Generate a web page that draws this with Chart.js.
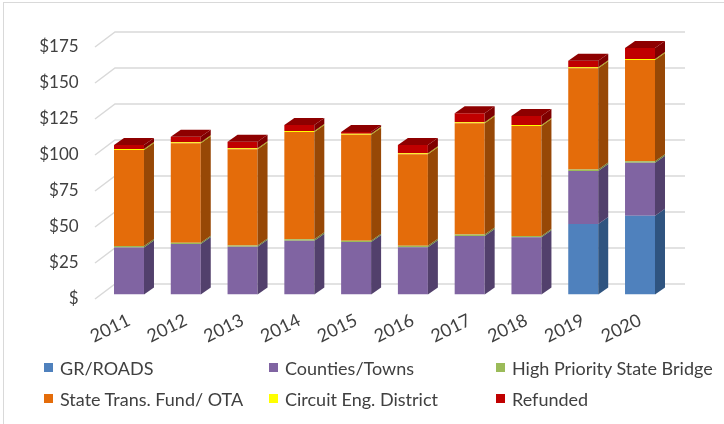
<!DOCTYPE html>
<html>
<head>
<meta charset="utf-8">
<script src="https://cdn.jsdelivr.net/npm/chart.js@4.4.1/dist/chart.umd.min.js"></script>
<style>
  html, body { margin: 0; padding: 0; background: #ffffff; }
  #wrap { position: relative; width: 724px; height: 424px; overflow: hidden; }
  #frame { position: absolute; left: 3px; top: 2px; width: 740px; height: 440px; border: 1px solid #d9d9d9; box-sizing: border-box; }
  canvas { position: absolute; left: 0; top: 0; }
  .lg { position: absolute; font-family: Lato, "Open Sans", sans-serif; font-size: 18px; color: #404040; white-space: nowrap; line-height: 20px; }
  .lg i { position: absolute; left: 0; top: 5px; width: 9px; height: 9px; }
  .lg span { position: absolute; left: 16px; top: 0; }
</style>
</head>
<body>
<div id="wrap">
  <div id="frame"></div>
  <canvas id="c" width="724" height="424"></canvas>
  <div id="legend"></div>
</div>
<script>
// ---- data ----
const years = ['2011','2012','2013','2014','2015','2016','2017','2018','2019','2020'];
const grRoads    = [0, 0, 0, 0, 0, 0, 0, 0, 49.0, 54.7];
const counties   = [32.7, 35.0, 33.1, 37.3, 36.4, 32.8, 40.6, 39.7, 36.8, 36.8];
const hpBridge   = [1.0, 1.0, 1.0, 1.0, 1.0, 1.0, 1.0, 1.0, 1.0, 1.0];
const stateTrans = [66.6, 69.0, 66.7, 74.5, 73.6, 63.6, 77.3, 76.3, 70.3, 70.3];
const circuitEng = [0.7, 0.7, 0.7, 0.7, 0.7, 0.7, 0.7, 0.7, 0.7, 0.7];
const refunded   = [2.8, 3.9, 4.6, 4.2, 1.1, 5.7, 6.2, 6.3, 4.6, 7.7];
const seriesNames = ['GR/ROADS', 'Counties/Towns', 'High Priority State Bridge', 'State Trans. Fund/ OTA', 'Circuit Eng. District', 'Refunded'];
const yTickValues = [0, 25, 50, 75, 100, 125, 150, 175];

// ---- styles ----
const frontColors = ['#4f81bd', '#8064a2', '#9bbb59', '#e46c0a', '#ffff00', '#c00000'];
const sideColors  = ['#2f5480', '#52406c', '#67803a', '#974806', '#a8a800', '#7f0000'];
const topColor = '#8e0000';
const DEPTH_X = 10, DEPTH_Y = -7;

const seriesData = [grRoads, counties, hpBridge, stateTrans, circuitEng, refunded];

const threeD = {
  id: 'threeD',
  beforeDatasetsDraw(chart) {
    const ctx = chart.ctx, ys = chart.scales.y, ca = chart.chartArea;
    ctx.save();
    ctx.strokeStyle = '#d9d9d9';
    ctx.lineWidth = 1.5;
    ys.ticks.forEach(t => {
      const yb = ys.getPixelForValue(t.value) - 10.5;
      ctx.beginPath();
      ctx.moveTo(ca.left - 5.6, yb + 15);
      ctx.lineTo(ca.left + 14.4, yb);
      ctx.lineTo(ca.right + 16.6, yb);
      ctx.stroke();
    });
    ctx.restore();
  },
  afterDatasetsDraw(chart) {
    const ctx = chart.ctx;
    ctx.save();
    const n = chart.data.datasets.length;
    for (let d = 0; d < n; d++) {
      const meta = chart.getDatasetMeta(d);
      meta.data.forEach(el => {
        const p = el.getProps(['x', 'y', 'base', 'width'], true);
        const h = p.base - p.y;
        if (h < 0.05) return;
        const r = p.x + p.width / 2;
        ctx.fillStyle = sideColors[d];
        ctx.beginPath();
        ctx.moveTo(r, p.y);
        ctx.lineTo(r + DEPTH_X, p.y + DEPTH_Y);
        ctx.lineTo(r + DEPTH_X, p.base + DEPTH_Y);
        ctx.lineTo(r, p.base);
        ctx.closePath();
        ctx.fill();
      });
    }
    const topMeta = chart.getDatasetMeta(n - 1);
    topMeta.data.forEach(el => {
      const p = el.getProps(['x', 'y', 'width'], true);
      const l = p.x - p.width / 2, r = p.x + p.width / 2;
      ctx.fillStyle = topColor;
      ctx.beginPath();
      ctx.moveTo(l, p.y);
      ctx.lineTo(l + DEPTH_X, p.y + DEPTH_Y);
      ctx.lineTo(r + DEPTH_X, p.y + DEPTH_Y);
      ctx.lineTo(r, p.y);
      ctx.closePath();
      ctx.fill();
    });
    ctx.restore();
  }
};

const chart = new Chart(document.getElementById('c'), {
  type: 'bar',
  data: {
    labels: years,
    datasets: seriesData.map((arr, i) => ({
      label: seriesNames[i],
      data: arr,
      backgroundColor: frontColors[i],
      borderWidth: 0,
      categoryPercentage: 0.528,
      barPercentage: 1.0
    }))
  },
  options: {
    responsive: false,
    animation: false,
    devicePixelRatio: 1,
    layout: { padding: { left: 30, right: 55.6, top: 42.5, bottom: 69.5 } },
    plugins: { legend: { display: false }, tooltip: { enabled: false } },
    scales: {
      x: {
        stacked: true,
        grid: { display: false, drawTicks: false },
        border: { display: false },
        afterFit: s => { s.height = 60; },
        ticks: {
          autoSkip: false,
          minRotation: 26, maxRotation: 26,
          padding: 15,
          color: '#404040',
          font: { family: 'Lato', size: 18 }
        }
      },
      y: {
        stacked: true,
        min: 0, max: 175,
        grid: { display: false, drawTicks: false },
        border: { display: false },
        afterFit: s => { s.width = 70.6; },
        afterBuildTicks: s => { s.ticks = yTickValues.map(v => ({ value: v })); },
        ticks: {
          padding: 22,
          labelOffset: 4.5,
          color: '#404040',
          font: { family: 'Lato', size: 17 },
          callback: v => v === 0 ? '$' : '$' + v
        }
      }
    }
  },
  plugins: [threeD]
});

// ---- legend (3 columns x 2 rows) ----
const legendCols = [44, 269, 496];
const legendRows = [358, 389];
const legend = document.getElementById('legend');
seriesNames.forEach((name, i) => {
  const div = document.createElement('div');
  div.className = 'lg';
  div.style.left = legendCols[i % 3] + 'px';
  div.style.top = legendRows[Math.floor(i / 3)] + 'px';
  const box = document.createElement('i');
  box.style.background = frontColors[i];
  const txt = document.createElement('span');
  txt.textContent = name;
  div.appendChild(box);
  div.appendChild(txt);
  legend.appendChild(div);
});
</script>
</body>
</html>
